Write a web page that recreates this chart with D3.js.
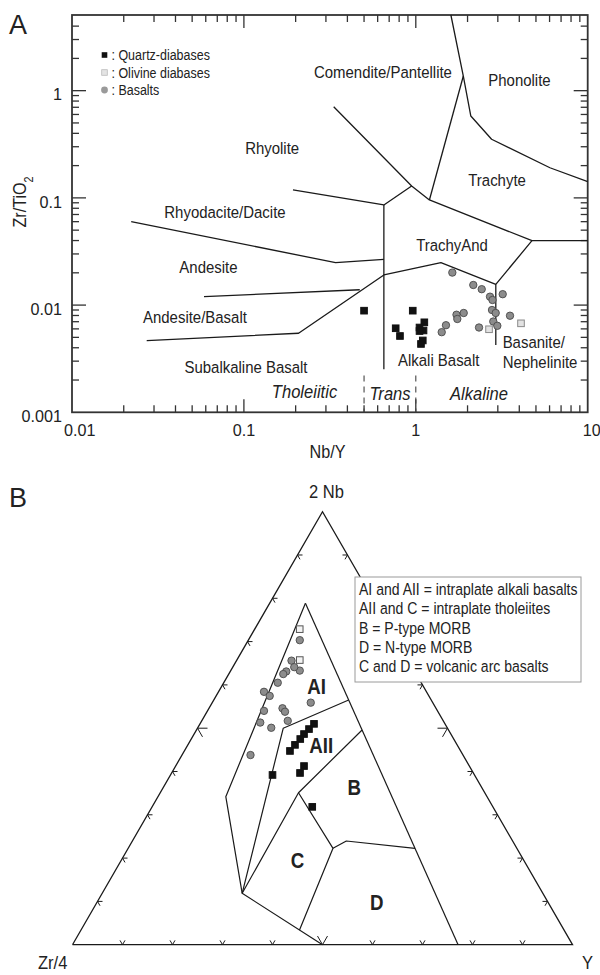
<!DOCTYPE html>
<html>
<head>
<meta charset="utf-8">
<script src="https://cdn.jsdelivr.net/npm/d3@7"></script>
<style>
  body { margin: 0; background: #fff; }
  svg { display: block; }
  text { font-family: "Liberation Sans", Arial, Helvetica, sans-serif; fill: #222; }
</style>
</head>
<body>
<svg id="chart"></svg>
<script>
// ---------- panel A: Nb/Y vs Zr/TiO2 (log-log) ----------
const quartzA = [[0.50, 0.00887], [0.96, 0.00887], [0.764, 0.00608], [0.809, 0.00515], [1.121, 0.00691],
  [1.051, 0.00618], [1.109, 0.0058], [1.051, 0.00573], [1.098, 0.00468], [1.072, 0.00434]];
const olivineA = [[2.667, 0.00595], [4.093, 0.00676]];
const basaltA = [[1.631, 0.0201], [2.16, 0.0154], [2.418, 0.01407], [2.702, 0.01198], [2.794, 0.01116],
  [3.203, 0.01264], [2.775, 0.009], [2.916, 0.00844], [3.532, 0.00796], [1.725, 0.00813], [1.9, 0.00844],
  [1.744, 0.00742], [1.498, 0.00649], [1.415, 0.00559], [2.332, 0.00618], [2.823, 0.00703], [2.98, 0.00641]];

// field boundaries (Nb/Y, Zr/TiO2)
const phonoliteLine = [[1.6, 5.08], [1.89, 1.37], [2.09, 0.58], [2.76, 0.352], [6.03, 0.191], [10, 0.142]];
const comenditeLine = [[1.89, 1.37], [1.2, 0.0956]];
const rhyoliteLine = [[0.333, 0.709], [0.946, 0.129], [1.2, 0.0956], [4.74, 0.0399], [10, 0.0399]];
const rhyodaciteLine = [[0.193, 0.1185], [0.652, 0.0859], [0.946, 0.129]];
const subalkVertical = [[0.652, 0.0859], [0.652, 0.00252]];
const andesiteLine = [[0.0221, 0.06], [0.3415, 0.0249], [0.652, 0.0267]];
const andBasaltLine = [[0.0586, 0.012], [0.472, 0.0139]];
const subalkLine = [[0.0272, 0.00466], [0.208, 0.00546], [0.652, 0.0191], [1.4, 0.0249], [2.92, 0.0156], [4.74, 0.0399]];
const basaniteLine = [[2.92, 0.0156], [2.92, 0.00425]];
const seriesDivides = [0.5, 1];

const xTickLabels = [0.01, 0.1, 1, 10];
const yTickLabels = [0.001, 0.01, 0.1, 1];

const fieldNames = [
  ['Comendite/Pantellite', 0.644, 1.5], ['Phonolite', 4.01, 1.26], ['Rhyolite', 0.146, 0.295],
  ['Trachyte', 2.97, 0.147], ['Rhyodacite/Dacite', 0.0776, 0.0739], ['TrachyAnd', 1.624, 0.0363],
  ['Andesite', 0.0622, 0.0227], ['Andesite/Basalt', 0.0519, 0.00774], ['Subalkaline Basalt', 0.1028, 0.00265],
  ['Alkali Basalt', 1.359, 0.00308]
];
const leftNames = [['Basanite/', 3.2, 0.00457], ['Nephelinite', 3.2, 0.00298]];
const seriesNames = [['Tholeiitic', 0.2252, 0.00155], ['Trans', 0.708, 0.00151], ['Alkaline', 2.332, 0.00151]];

// ---------- panel B: Zr/4 - 2Nb - Y ternary, points as [2Nb, Zr/4, Y] ----------
const quartzB = [[51.0, 26.2, 22.8], [49.8, 27.8, 22.4], [48.7, 29.4, 22.0], [47.5, 30.7, 21.8], [46.1, 32.4, 21.4],
  [44.7, 34.1, 21.1], [41.3, 33.1, 25.7], [39.7, 34.7, 25.7], [39.2, 40.4, 20.4], [31.8, 36.1, 32.0]];
const olivineB = [[72.8, 18.1, 9.0], [65.8, 21.7, 12.6]];
const basaltB = [[70.4, 19.4, 10.3], [65.6, 23.4, 11.0], [63.1, 25.7, 11.2], [63.3, 22.9, 13.8], [62.5, 26.6, 10.9],
  [60.5, 28.7, 10.8], [58.4, 32.5, 9.1], [57.4, 31.8, 10.7], [55.9, 24.4, 19.7], [54.0, 34.7, 11.3],
  [54.6, 30.7, 14.7], [53.8, 30.6, 15.6], [51.3, 36.8, 11.9], [50.1, 35.2, 14.7], [51.7, 31.1, 17.2],
  [43.8, 42.5, 13.7], [64.1, 23.6, 12.3]];

const outerField = [[78.85, 13.99, 7.16], [34.18, 52.25, 13.57], [11.87, 60.13, 28.0], [0, 50, 50]];
const rightField = [[78.85, 13.99, 7.16], [0, 22.88, 77.12]];
const aiLine = [[11.87, 60.13, 28.0], [49.98, 32.87, 17.15], [56.51, 16.51, 26.98]];
const aiiLine = [[11.87, 60.13, 28.0], [35.1, 37.25, 27.65], [49.58, 17.29, 33.13]];
const bcLine = [[35.1, 37.25, 27.65], [22.26, 36.77, 40.97], [3.4, 52.9, 43.7]];
const bdLine = [[22.26, 36.77, 40.97], [23.95, 33.26, 42.79], [22.26, 20.37, 57.37]];
const fieldLetters = [['AI', 59.8, 21.3, 18.9], ['AII', 46.1, 27.2, 26.7], ['B', 36.5, 25.4, 38.1],
  ['C', 19.6, 45.2, 35.2], ['D', 9.9, 34.2, 55.9]];
const legendLines = ['AI and AII = intraplate alkali basalts', 'AII and C = intraplate tholeiites',
  'B = P-type MORB', 'D = N-type MORB', 'C and D = volcanic arc basalts'];
const legendA = [': Quartz-diabases', ': Olivine diabases', ': Basalts'];

const W = 600, H = 975;
const svg = d3.select('#chart').attr('width', W).attr('height', H);

const ink = '#1a1a1a';
const frameInk = '#333';
const circFill = '#8c8c8c';
const lightFill = '#e2e2e2';

// text helper: the figure's lettering is a little condensed, so squeeze it horizontally
function label(g, s, px, py, o = {}) {
  const t = g.append('text')
    .attr('transform', `translate(${px},${py}) scale(${o.sx || 1},1)${o.rot ? ` rotate(${o.rot})` : ''}`)
    .attr('text-anchor', o.anchor || 'start')
    .attr('dy', o.dy === undefined ? '0.36em' : o.dy)
    .style('font-size', `${o.size || 16}px`);
  if (o.italic) t.style('font-style', 'italic');
  if (o.bold) t.style('font-weight', 'bold');
  if (s !== null) t.text(s);
  return t;
}

// ================= panel A =================
const x = d3.scaleLog().domain([0.01, 10]).range([72, 587.7]);
const y = d3.scaleLog().domain([0.001, 5.08]).range([412.3, 15]);
const [x0, x1] = x.range();
const [y1, y0] = y.range();

const gA = svg.append('g');
const isMajor = (v) => Math.abs(Math.log10(v) - Math.round(Math.log10(v))) < 1e-6;

// ticks on all four sides, inward
const xt = x.ticks().filter((v) => x(v) > x0 + 1 && x(v) < x1 - 1);
const yt = y.ticks().filter((v) => y(v) < y1 - 1 && y(v) > y0 + 1);
const tickG = gA.append('g').attr('stroke', frameInk).attr('stroke-width', 1.3);
xt.forEach((v) => {
  const L = isMajor(v) ? 13 : 7;
  tickG.append('line').attr('x1', x(v)).attr('x2', x(v)).attr('y1', y1).attr('y2', y1 - L);
  tickG.append('line').attr('x1', x(v)).attr('x2', x(v)).attr('y1', y0).attr('y2', y0 + L);
});
yt.forEach((v) => {
  const L = isMajor(v) ? 14 : 7;
  tickG.append('line').attr('x1', x0).attr('x2', x0 + L).attr('y1', y(v)).attr('y2', y(v));
  tickG.append('line').attr('x1', x1).attr('x2', x1 - L).attr('y1', y(v)).attr('y2', y(v));
});

gA.append('rect')
  .attr('x', x0).attr('y', y0).attr('width', x1 - x0).attr('height', y1 - y0)
  .attr('fill', 'none').attr('stroke', frameInk).attr('stroke-width', 1.8);

// tick labels
xTickLabels.forEach((d, i) => {
  label(gA, d, x(d) + (i === 0 ? -8 : i === 3 ? -5 : 0), 430,
    { size: 17, sx: 0.95, anchor: i === 0 || i === 3 ? 'start' : 'middle' });
});
yTickLabels.forEach((d) => {
  label(gA, d, 62, y(d) + 3.5, { size: 17, sx: 0.95, anchor: 'end' });
});

// axis titles
label(gA, 'Nb/Y', 327.5, 451.5, { size: 18, sx: 0.9, anchor: 'middle' });
const yTitle = label(gA, null, 20, 202, { size: 18, sx: 1, rot: -90, anchor: 'middle' });
yTitle.attr('transform', 'translate(20,202) rotate(-90) scale(0.9,1)');
yTitle.append('tspan').text('Zr/TiO');
yTitle.append('tspan').attr('baseline-shift', 'sub').style('font-size', '12px').text('2');

label(gA, 'A', 9, 24, { size: 27 });

// field boundaries
const lineA = d3.line().x((d) => x(d[0])).y((d) => y(d[1]));
const fieldG = gA.append('g').attr('fill', 'none').attr('stroke', ink).attr('stroke-width', 1.3)
  .attr('stroke-linejoin', 'round');
[phonoliteLine, comenditeLine, rhyoliteLine, rhyodaciteLine, subalkVertical, andesiteLine,
  andBasaltLine, subalkLine, basaniteLine].forEach((ln) => fieldG.append('path').attr('d', lineA(ln)));

gA.selectAll('.dv').data(seriesDivides).enter().append('line')
  .attr('x1', (d) => x(d)).attr('x2', (d) => x(d))
  .attr('y1', y(0.0022)).attr('y2', y1)
  .attr('stroke', '#444').attr('stroke-width', 1.1).attr('stroke-dasharray', '6,5');

// field names
fieldNames.forEach((d) => label(gA, d[0], x(d[1]), y(d[2]), { size: 17, sx: 0.88, anchor: 'middle' }));
leftNames.forEach((d) => label(gA, d[0], x(d[1]), y(d[2]), { size: 17, sx: 0.88 }));
seriesNames.forEach((d) => label(gA, d[0], x(d[1]), y(d[2]), { size: 18, sx: 0.92, anchor: 'middle', italic: true }));

// samples
const sq = 6.6;
function drawSquares(g, pts, px, fill, stroke) {
  g.selectAll(null).data(pts).enter().append('rect')
    .attr('x', (d) => px(d)[0] - sq / 2).attr('y', (d) => px(d)[1] - sq / 2)
    .attr('width', sq).attr('height', sq)
    .attr('fill', fill).attr('stroke', stroke).attr('stroke-width', 1);
}
function drawCircles(g, pts, px) {
  g.selectAll(null).data(pts).enter().append('circle')
    .attr('cx', (d) => px(d)[0]).attr('cy', (d) => px(d)[1]).attr('r', 3.7)
    .attr('fill', circFill).attr('stroke', '#4a4a4a').attr('stroke-width', 0.9);
}
const pxA = (d) => [x(d[0]), y(d[1])];
const ptsA = gA.append('g');
drawCircles(ptsA, basaltA, pxA);
drawSquares(ptsA, olivineA, pxA, lightFill, '#8a8a8a');
drawSquares(ptsA, quartzA, pxA, '#111', '#111');

// legend A
const lgA = gA.append('g').attr('transform', 'translate(104.5,55)');
lgA.append('rect').attr('x', -2.8).attr('y', -2.8).attr('width', 5.6).attr('height', 5.6).attr('fill', '#111');
lgA.append('rect').attr('x', -2.8).attr('y', 17.5 - 2.8).attr('width', 5.6).attr('height', 5.6)
  .attr('fill', '#e4e4e4').attr('stroke', '#bbb').attr('stroke-width', 0.8);
lgA.append('circle').attr('cx', 0).attr('cy', 35).attr('r', 3.4).attr('fill', '#9a9a9a');
legendA.forEach((d, i) => label(lgA, d, 7, i * 17.5, { size: 14.5, sx: 0.86 }));

// ================= panel B =================
const tx = d3.scaleLinear().domain([0, 100]).range([72.5, 572.5]);
const ty = d3.scaleLinear().domain([0, 100]).range([944.7, 944.7 - 500 * Math.sqrt(3) / 2]);
function tern(d) {
  const s = d[0] + d[1] + d[2];
  const a = (d[0] / s) * 100, c = (d[2] / s) * 100;
  return [tx(c + a / 2), ty(a)];
}
const gB = svg.append('g');
const lineB = d3.line().x((d) => tern(d)[0]).y((d) => tern(d)[1]);

gB.append('path').attr('d', lineB([[0, 100, 0], [0, 0, 100], [100, 0, 0], [0, 100, 0]]))
  .attr('fill', 'none').attr('stroke', ink).attr('stroke-width', 1.3).attr('stroke-linejoin', 'miter');

// chevron ticks along the edges, arms parallel to the other two sides
const r3 = Math.sqrt(3) / 2;
const edges = [
  { pt: (k) => [0, 100 - k, k], arms: [[-0.5, -r3], [0.5, -r3]] },   // base
  { pt: (k) => [k, 100 - k, 0], arms: [[1, 0], [0.5, r3]] },         // left side
  { pt: (k) => [k, 0, 100 - k], arms: [[-1, 0], [-0.5, r3]] }        // right side
];
const chevG = gB.append('g').attr('fill', 'none').attr('stroke', ink).attr('stroke-width', 1);
edges.forEach((e) => {
  d3.range(10, 100, 10).forEach((k) => {
    const [px, py] = tern(e.pt(k));
    const L = k === 50 ? 10 : 5;
    chevG.append('path').attr('d',
      `M${px + L * e.arms[0][0]},${py + L * e.arms[0][1]}L${px},${py}L${px + L * e.arms[1][0]},${py + L * e.arms[1][1]}`);
  });
});

const fieldBG = gB.append('g').attr('fill', 'none').attr('stroke', ink).attr('stroke-width', 1.2)
  .attr('stroke-linejoin', 'round');
[outerField, rightField, aiLine, aiiLine, bcLine, bdLine].forEach((ln) => fieldBG.append('path').attr('d', lineB(ln)));

fieldLetters.forEach((d) => {
  const [px, py] = tern(d.slice(1));
  label(gB, d[0], px, py, { size: 22, sx: 0.85, anchor: 'middle', bold: true });
});

const ptsB = gB.append('g');
drawCircles(ptsB, basaltB, tern);
drawSquares(ptsB, olivineB, tern, '#f4f4f4', '#555');
drawSquares(ptsB, quartzB, tern, '#111', '#111');

// apex / corner labels
label(gB, '2 Nb', 326.5, 492, { size: 18, sx: 0.92, anchor: 'middle' });
label(gB, 'Zr/4', 38, 963, { size: 18, sx: 0.92 });
label(gB, 'Y', 587.5, 963, { size: 18, sx: 0.92, anchor: 'middle' });
label(gB, 'B', 9, 497, { size: 27 });

// legend B
const lgB = gB.append('g').attr('transform', 'translate(355,577)');
lgB.append('rect').attr('width', 226).attr('height', 105).attr('fill', '#fff')
  .attr('stroke', '#9a9a9a').attr('stroke-width', 1);
legendLines.forEach((d, i) => label(lgB, d, 4, 12 + i * 19.3, { size: 16.5, sx: 0.85 }));
</script>
</body>
</html>
